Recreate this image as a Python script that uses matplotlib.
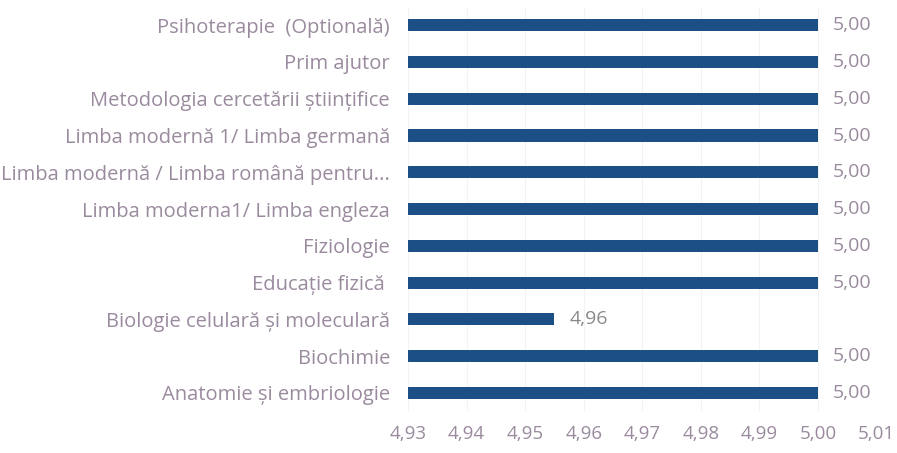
import matplotlib.pyplot as plt
import numpy as np

# categories listed bottom to top, as drawn
categories = ['Anatomie și embriologie', 'Biochimie', 'Biologie celulară și moleculară',
              'Educație fizică ', 'Fiziologie', 'Limba moderna1/ Limba engleza',
              'Limba modernă / Limba română pentru...', 'Limba modernă 1/ Limba germană',
              'Metodologia cercetării științifice', 'Prim ajutor', 'Psihoterapie  (Optională)']
values = [5.00, 5.00, 4.955, 5.00, 5.00, 5.00, 5.00, 5.00, 5.00, 5.00, 5.00]
x_ticks = [4.93, 4.94, 4.95, 4.96, 4.97, 4.98, 4.99, 5.00, 5.01]

bar_color = '#1b4f86'
text_color = '#9a8a9e'

plt.rcParams['font.family'] = ['Open Sans', 'DejaVu Sans']
fig = plt.figure(figsize=(8.97, 4.53), dpi=100)
ax = fig.add_axes([0.455, 0.092, 0.522, 0.893])

y_pos = np.arange(len(categories))
base = x_ticks[0]
ax.barh(y_pos, np.array(values) - base, left=base, height=0.33, color=bar_color)

for y, v in zip(y_pos, values):
    ax.text(v + 0.0026, y, f'{v:.2f}'.replace('.', ','), va='center', ha='left',
            fontsize=14, color=text_color if v >= 5 else '#8a8a8a')

ax.set_xlim(x_ticks[0], x_ticks[-1])
ax.set_ylim(-0.5, len(categories) - 0.5)
ax.set_xticks(x_ticks)
ax.set_xticklabels([f'{t:.2f}'.replace('.', ',') for t in x_ticks])
ax.set_yticks(y_pos)
ax.set_yticklabels(categories)
ax.tick_params(axis='both', length=0, colors=text_color)
ax.tick_params(axis='y', pad=13, labelsize=14.5)
ax.tick_params(axis='x', pad=10, labelsize=13.5)
ax.grid(axis='x', color='#f2f2f2', linewidth=0.8)
ax.set_axisbelow(True)
for s in ax.spines.values():
    s.set_visible(False)

fig.savefig('out.png', dpi=100)
